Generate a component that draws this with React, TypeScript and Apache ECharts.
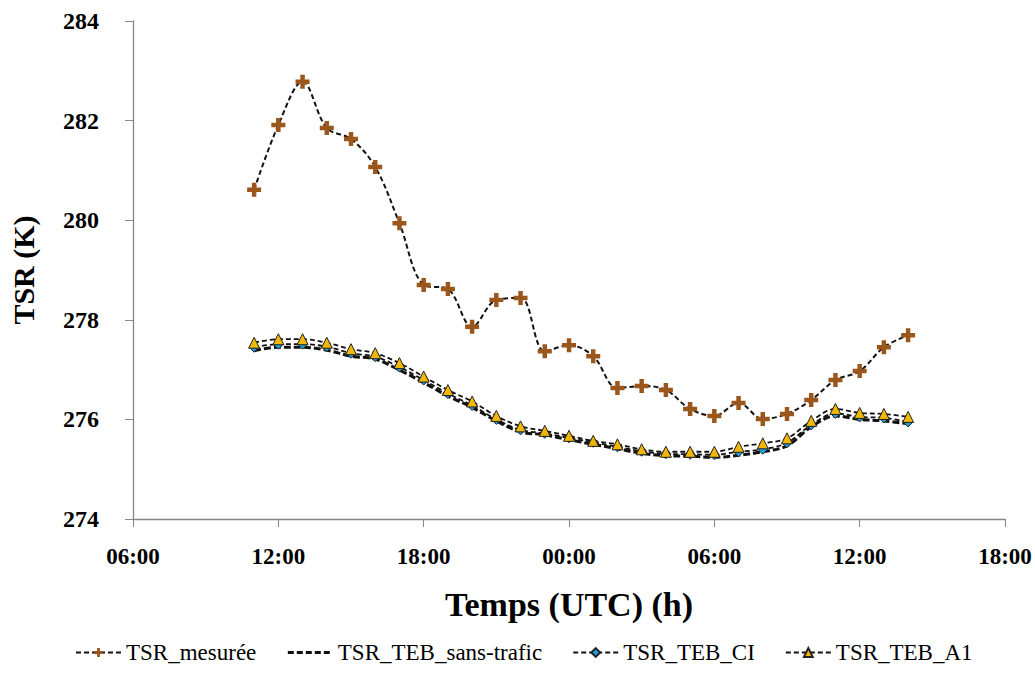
import React, { useEffect, useRef } from "react";
import * as echarts from "echarts";

// Hours since 00:00 of day 1 (11:00 day 1 .. 14:00 day 2)
const hours = [11, 12, 13, 14, 15, 16, 17, 18, 19, 20, 21, 22, 23, 24, 25, 26, 27, 28, 29, 30, 31, 32, 33, 34, 35, 36, 37, 38];

const tsrMesuree = [280.61, 281.91, 282.78, 281.85, 281.63, 281.07, 279.94, 278.70, 278.62, 277.86, 278.40, 278.44, 277.37, 277.49, 277.27, 276.63, 276.67, 276.59, 276.21, 276.07, 276.33, 276.01, 276.11, 276.39, 276.79, 276.97, 277.45, 277.69];
const tsrSansTrafic = [277.38, 277.45, 277.45, 277.39, 277.27, 277.21, 276.99, 276.74, 276.47, 276.24, 275.97, 275.75, 275.69, 275.59, 275.50, 275.41, 275.32, 275.27, 275.26, 275.24, 275.28, 275.35, 275.47, 275.85, 276.07, 276.00, 275.97, 275.91];
const tsrCI = [277.45, 277.51, 277.51, 277.46, 277.33, 277.26, 277.05, 276.79, 276.52, 276.28, 276.00, 275.79, 275.72, 275.63, 275.54, 275.45, 275.36, 275.31, 275.30, 275.29, 275.35, 275.40, 275.53, 275.89, 276.12, 276.05, 276.03, 275.95];
const tsrA1 = [277.54, 277.61, 277.61, 277.54, 277.41, 277.33, 277.13, 276.86, 276.59, 276.36, 276.07, 275.86, 275.77, 275.67, 275.57, 275.50, 275.40, 275.35, 275.35, 275.35, 275.45, 275.52, 275.62, 275.97, 276.21, 276.13, 276.11, 276.05];

const seriesNames = ["TSR_mesurée", "TSR_TEB_sans-trafic", "TSR_TEB_CI", "TSR_TEB_A1"];

const FONT = "serif";

function pairs(vals: number[]) {
  return hours.map((h, i) => [h, vals[i]]);
}

export default function App() {
  const ref = useRef<HTMLDivElement>(null);
  useEffect(() => {
    if (!ref.current) return;
    const chart = echarts.init(ref.current, null, { renderer: "svg" });
    const plus = "path://M3.4,0H6.6V3.4H10V6.6H6.6V10H3.4V6.6H0V3.4H3.4Z";
    chart.setOption({
      animation: false,
      backgroundColor: "#ffffff",
      textStyle: { fontFamily: FONT },
      grid: { left: 121, right: 30, top: 21, bottom: 158, containLabel: false },
      legend: {
        bottom: 8,
        left: 70,
        itemGap: 30,
        itemWidth: 45,
        itemHeight: 11,
        textStyle: { fontFamily: FONT, fontSize: 23, color: "#000" },
        data: [
          { name: seriesNames[0] },
          { name: seriesNames[1], itemStyle: { opacity: 0 }, lineStyle: { width: 3, type: [6, 3] } },
          { name: seriesNames[2] },
          { name: seriesNames[3] },
        ],
      },
      xAxis: {
        type: "value",
        min: 6,
        max: 42,
        interval: 6,
        name: "Temps (UTC) (h)",
        nameLocation: "middle",
        nameGap: 68,
        nameTextStyle: { fontFamily: FONT, fontSize: 34, fontWeight: "bold", color: "#000" },
        axisLine: { show: true, lineStyle: { color: "#868686", width: 1.3 } },
        axisTick: { show: true, length: 8, lineStyle: { color: "#868686" } },
        splitLine: { show: false },
        axisLabel: {
          fontFamily: FONT,
          fontSize: 23,
          fontWeight: "bold",
          color: "#000",
          margin: 26,
          formatter: (v: number) => {
            const h = ((v % 24) + 24) % 24;
            return (h < 10 ? "0" : "") + h + ":00";
          },
        },
      },
      yAxis: {
        type: "value",
        min: 274,
        max: 284,
        interval: 2,
        name: "TSR (K)",
        nameLocation: "middle",
        nameGap: 95,
        nameRotate: 90,
        nameTextStyle: { fontFamily: FONT, fontSize: 30, fontWeight: "bold", color: "#000" },
        axisLine: { show: true, lineStyle: { color: "#868686", width: 1.3 } },
        axisTick: { show: true, length: 8, lineStyle: { color: "#868686" } },
        splitLine: { show: false },
        axisLabel: { fontFamily: FONT, fontSize: 24, fontWeight: "bold", color: "#000", margin: 34 },
      },
      series: [
        {
          name: seriesNames[0],
          type: "line",
          smooth: 0.35,
          data: pairs(tsrMesuree),
          symbol: plus,
          symbolSize: 14,
          itemStyle: { color: "#9B561C", borderWidth: 0 },
          lineStyle: { color: "#111", width: 2, type: [5, 3] },
          z: 4,
        },
        {
          name: seriesNames[1],
          type: "line",
          smooth: 0.35,
          data: pairs(tsrSansTrafic),
          symbol: "none",
          itemStyle: { color: "#111" },
          lineStyle: { color: "#111", width: 3, type: [7, 3] },
          z: 2,
        },
        {
          name: seriesNames[2],
          type: "line",
          smooth: 0.35,
          data: pairs(tsrCI),
          symbol: "diamond",
          symbolSize: 10,
          itemStyle: { color: "#1DA1E0", borderColor: "#222", borderWidth: 1 },
          lineStyle: { color: "#111", width: 1.8, type: [5, 3] },
          z: 3,
        },
        {
          name: seriesNames[3],
          type: "line",
          smooth: 0.35,
          data: pairs(tsrA1),
          symbol: "triangle",
          symbolSize: 11,
          itemStyle: { color: "#F2B705", borderColor: "#222", borderWidth: 1 },
          lineStyle: { color: "#111", width: 1.8, type: [5, 3] },
          z: 4,
        },
      ],
    });
    return () => chart.dispose();
  }, []);
  return (
    <div
      ref={ref}
      style={{ position: "fixed", left: 0, top: 0, width: 1035, height: 677, background: "#fff" }}
    />
  );
}
